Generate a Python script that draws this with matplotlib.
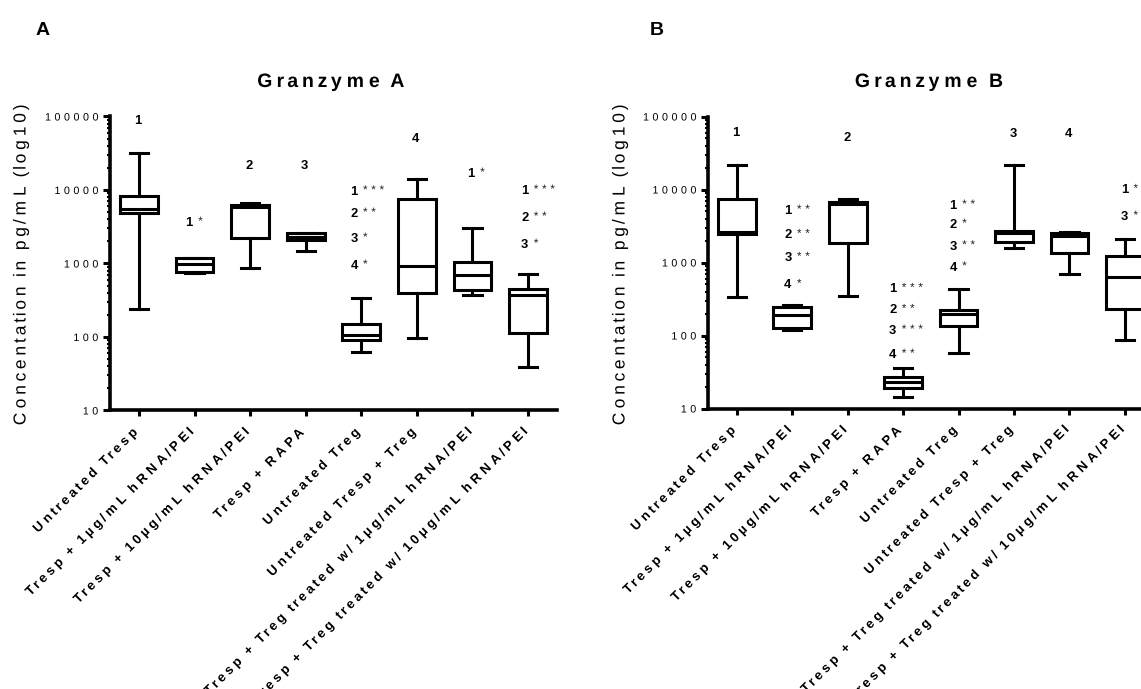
import numpy as np
import matplotlib
matplotlib.use("Agg")
import matplotlib.pyplot as plt
from matplotlib.patheffects import AbstractPathEffect
from matplotlib.path import Path
from matplotlib.ticker import LogLocator, NullFormatter
from matplotlib.transforms import ScaledTranslation

# ---------------- data ----------------
categories = [
    "Untreated Tresp",
    "Tresp + 1µg/mL hRNA/PEI",
    "Tresp + 10µg/mL hRNA/PEI",
    "Tresp + RAPA",
    "Untreated Treg",
    "Untreated Tresp + Treg",
    "Tresp + Treg treated w/ 1μg/mL hRNA/PEI",
    "Tresp + Treg treated w/ 10μg/mL hRNA/PEI",
]

# Granzyme A (pg/mL)
a_whislo = [242, 740, 870, 1490, 63, 97, 375, 39]
a_q1 = [4900, 778, 2190, 2100, 90.5, 399, 430, 114]
a_med = [5550, 990, 5800, 2280, 105, 918, 708, 367]
a_q3 = [8400, 1180, 6300, 2560, 148, 7650, 1043, 447]
a_whishi = [31400, 1200, 6600, 2640, 341, 14200, 3060, 724]

# Granzyme B (pg/mL)
b_whislo = [339, 118, 353, 14.6, 58, 1590, 706, 88]
b_q1 = [2440, 127, 1860, 19, 137, 1900, 1330, 234]
b_med = [2600, 188, 6290, 22.9, 200, 2550, 2290, 636]
b_q3 = [7450, 247, 6700, 27.4, 227, 2740, 2570, 1240]
b_whishi = [21800, 258, 7450, 36, 437, 21800, 2630, 2110]

# significance annotations
a_ann_group = [0, 1, 2, 3, 4, 4, 4, 4, 5, 6, 7, 7, 7]
a_ann_num = ["1", "1", "2", "3", "1", "2", "3", "4", "4", "1", "1", "2", "3"]
a_ann_stars = ["", "*", "", "", "***", "**", "*", "*", "", "*", "***", "**", "*"]
a_ann_y = [91000, 3720, 22200, 22200, 9930, 4940, 2260, 970, 51800, 17300, 10160, 4360, 1870]

b_ann_group = [0, 1, 1, 1, 1, 2, 3, 3, 3, 3, 4, 4, 4, 4, 5, 6, 7, 7]
b_ann_num = ["1", "1", "2", "3", "4", "2", "1", "2", "3", "4", "1", "2", "3", "4", "3", "4", "1", "3"]
b_ann_stars = ["", "**", "**", "**", "*", "", "***", "**", "***", "**", "**", "*", "**", "*", "", "", "*", "*"]
b_ann_y = [61700, 5320, 2470, 1200, 511, 53700, 450, 232, 121, 56.6, 6240, 3420, 1730, 889, 59800, 59800, 10230, 4400]

y_ticks = [10, 100, 1000, 10000, 100000]
y_tick_labels = ["10", "100", "1000", "10000", "100000"]

# left offsets (pixels) of starred annotation groups, per category
a_star_dx = {1: -9, 4: -11, 6: -5, 7: -7}
b_star_dx = {1: -8, 3: -14, 4: -9, 7: -4}


# ---------------- letter-spacing helper ----------------
class Tracking(AbstractPathEffect):
    """Spreads glyphs apart (letter spacing) around an anchor."""

    def __init__(self, k, anchor=0.0):
        super().__init__()
        self._k = k
        self._anchor = anchor

    def draw_path(self, renderer, gc, tpath, affine, rgbFace=None):
        v = np.array(tpath.vertices, dtype=float)
        c = tpath.codes
        if c is not None and len(v) > 0:
            c = np.asarray(c)
            valid = c != Path.CLOSEPOLY
            starts = np.flatnonzero(c == Path.MOVETO)
            if len(starts) and valid.any():
                xs = v[valid, 0]
                x0 = xs.min() + self._anchor * (xs.max() - xs.min())
                ends = list(starts[1:]) + [len(v)]
                for s, e in zip(starts, ends):
                    m = valid[s:e]
                    seg = v[s:e, 0][m]
                    if len(seg) == 0:
                        continue
                    cx = 0.5 * (seg.min() + seg.max())
                    v[s:e, 0] += self._k * (cx - x0)
                tpath = Path(v, c)
        renderer.draw_path(gc, tpath, affine, rgbFace)


plt.rcParams["font.family"] = ["Liberation Sans", "DejaVu Sans"]

W, H = 1141, 689
fig = plt.figure(figsize=(W / 100, H / 100), dpi=100)


def fx(px):
    return px / W


def fy(py):
    return 1 - py / H


LW = 2.2


def make_panel(rect, whislo, q1, med, q3, whishi, title, title_x, letter, letter_x,
               ylabel_x, ann_group, ann_num, ann_stars, ann_y, star_dx):
    ax = fig.add_axes(rect)
    stats = [
        dict(whislo=lo, q1=a, med=m, q3=b, whishi=hi, fliers=[])
        for lo, a, m, b, hi in zip(whislo, q1, med, q3, whishi)
    ]
    ax.bxp(stats, positions=list(range(len(stats))), widths=0.68, capwidths=0.33,
           showfliers=False, patch_artist=True,
           boxprops=dict(facecolor="white", edgecolor="black", linewidth=LW),
           medianprops=dict(color="black", linewidth=LW, solid_capstyle="butt"),
           whiskerprops=dict(color="black", linewidth=LW),
           capprops=dict(color="black", linewidth=LW))
    ax.set_yscale("log")
    ax.set_ylim(10, 100000)
    ax.set_xlim(-0.52, len(stats) - 0.48)
    for s in ["top", "right"]:
        ax.spines[s].set_visible(False)
    for s in ["left", "bottom"]:
        ax.spines[s].set_linewidth(2.6)
    ax.set_yticks(y_ticks)
    ax.set_yticklabels(y_tick_labels, fontsize=7.7,
                       path_effects=[Tracking(0.6, anchor=1.0)])
    ax.yaxis.set_minor_locator(LogLocator(base=10, subs=np.arange(2, 10)))
    ax.yaxis.set_minor_formatter(NullFormatter())
    ax.tick_params(axis="y", which="major", length=5, width=2.2, pad=2.5)
    ax.tick_params(axis="y", which="minor", length=2.5, width=1.5)
    ax.set_xticks(list(range(len(categories))))
    ax.set_xticklabels(categories, rotation=45, ha="right", va="center",
                       rotation_mode="anchor", fontsize=9.5, fontweight="bold",
                       path_effects=[Tracking(0.45, anchor=1.0)])
    ax.tick_params(axis="x", which="both", length=4, width=2.2, pad=10)
    off = ScaledTranslation(-2 / 100, 0, fig.dpi_scale_trans)
    for lbl in ax.get_xticklabels():
        lbl.set_transform(lbl.get_transform() + off)

    for g, n, s, y in zip(ann_group, ann_num, ann_stars, ann_y):
        if s:
            dx = star_dx.get(g, -6)
            ax.annotate(n, xy=(g, y), xytext=(dx, -4.6), textcoords="offset pixels",
                        ha="left", va="baseline", fontsize=9.4, fontweight="bold")
            ax.annotate(s, xy=(g, y), xytext=(dx + 11, -3.2), textcoords="offset pixels",
                        ha="left", va="baseline", fontsize=8.5, color="#222222",
                        path_effects=[Tracking(0.8, anchor=0.0)])
        else:
            ax.annotate(n, xy=(g, y), xytext=(-1, -4.6), textcoords="offset pixels",
                        ha="center", va="baseline", fontsize=9.4, fontweight="bold")

    fig.text(fx(title_x), fy(87), title, ha="center", va="baseline", fontsize=14,
             fontweight="bold", path_effects=[Tracking(0.35, anchor=0.5)])
    fig.text(fx(letter_x), fy(35), letter, ha="left", va="baseline", fontsize=14,
             fontweight="bold")
    fig.text(fx(ylabel_x), fy(265), "Concentation in pg/mL (log10)", rotation=90,
             ha="center", va="center", fontsize=12.5,
             path_effects=[Tracking(0.4, anchor=0.5)])
    return ax


axA = make_panel([fx(110), fy(410.5), 447 / W, 294 / H],
                 a_whislo, a_q1, a_med, a_q3, a_whishi,
                 "Granzyme A", 331, "A", 36, 21,
                 a_ann_group, a_ann_num, a_ann_stars, a_ann_y, a_star_dx)
axB = make_panel([fx(708), fy(408.5), 445.6 / W, 292 / H],
                 b_whislo, b_q1, b_med, b_q3, b_whishi,
                 "Granzyme B", 929, "B", 650, 620,
                 b_ann_group, b_ann_num, b_ann_stars, b_ann_y, b_star_dx)

fig.savefig("out.png", dpi=100)
